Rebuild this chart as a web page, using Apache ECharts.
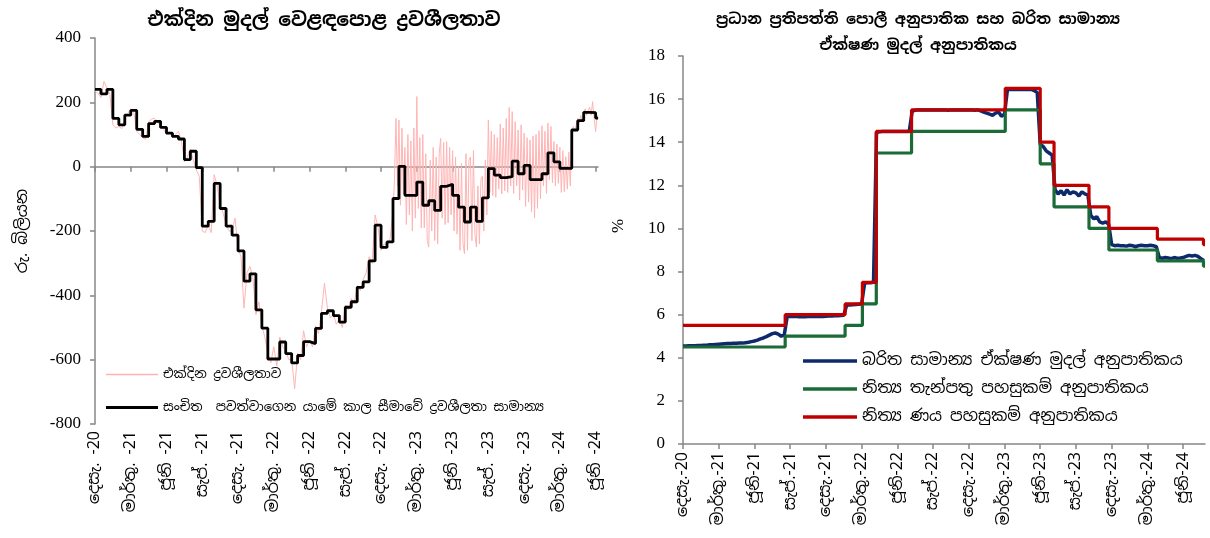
<!DOCTYPE html>
<html>
<head>
<meta charset="utf-8">
<script src="https://cdn.jsdelivr.net/npm/echarts@6/dist/echarts.min.js"></script>
<style>html,body{margin:0;padding:0;background:#fff}#c{width:1210px;height:538px}</style>
</head>
<body>
<div id="c"></div>
<script>
// ---------------- DATA ----------------
// x positions are months since 1 Dec 2020
const leftTickLabels = ['දෙසැ. -20','මාර්තු. -21','ජූනි -21','සැප්. -21','දෙසැ. -21','මාර්තු. -22','ජූනි -22','සැප්. -22','දෙසැ. -22','මාර්තු. -23','ජූනි -23','සැප්. -23','දෙසැ. -23','මාර්තු. -24','ජූනි -24'];
const rightTickLabels = ['දෙසැ.-20','මාර්තු.-21','ජූනි-21','සැප්.-21','දෙසැ.-21','මාර්තු.-22','ජූනි-22','සැප්.-22','දෙසැ.-22','මාර්තු.-23','ජූනි-23','සැප්.-23','දෙසැ.-23','මාර්තු.-24','ජූනි-24'];

// Reserve maintenance period average liquidity (Rs. bn), one value per half-month from Dec 2020
const reservePeriodAvg = [
  240, 226, 240, 150, 130, 160, 175, 116, 94, 134,
  141, 122, 104, 94, 86, 22, 48, -3, -185, -170,
  -52, -130, -185, -213, -262, -356, -333, -445, -502, -598,
  -598, -545, -581, -610, -587, -544, -550, -503, -456, -448,
  -463, -483, -437, -420, -375, -358, -293, -182, -251, -234,
  -99, 1, -89, -89, -48, -120, -106, -136, -61, -55,
  -89, -126, -172, -126, -170, -97, -6, -26, -34, -31,
  17, -22, 4, -40, -40, -22, 43, 15, -5, -5,
  114, 143, 169, 168, 151
];
const liquidityLastMonth = 42.2;   // last observation (early June 2024)

// Daily overnight liquidity, sampled weekly (every 0.25 month) Dec 2020 - Dec 2022
const dailyLiqEarly = [
  235, 228, 215, 265, 245, 225, 130, 120, 125, 118, 150, 165, 180, 170, 110, 100, 90, 85, 140, 148,
  150, 140, 125, 118, 100, 108, 90, 100, 110, 80, 15, 30, 55, 20, -10, -30, -200, -205, -180, -205,
  -25, -60, -120, -145, -180, -200, -200, -160, -255, -280, -440, -330, -310, -345, -460, -420, -495, -530, -580, -610,
  -560, -620, -530, -560, -570, -600, -600, -690, -580, -600, -510, -560, -540, -560, -495, -520, -450, -363, -440, -470,
  -460, -490, -475, -500, -430, -445, -410, -425, -370, -385, -350, -330, -280, -300, -150, -190, -260, -240, -245, -225
];
// Daily overnight liquidity, sampled every 0.125 month from Jan 2023
const dailyLiqLateStart = 25;
const dailyLiqLate = [
  -140, -40, 150, -60,  145, -120, 120, -85,  60, -180, 100, -150,  80, -200, 120, -160,
  218, -130, 90, -190,  100, -190, 40, -230,  -250, 20, -200, 60,  -230, 30, -240, 40,
  88, -160, 75, -180,  78, -175, 60, -150,  50, -200, 30, -210,  0, -260, 10, -240,
  -271, 40, -260, 20,  30, -230, 50, -210,  -250, -60, -240, -40,  -30, -200, 20, -150,
  145, -80, 110, -90,  100, -95, 90, -70,  133, -85, 120, -75,  150, -80, 184, -60,
  171, -83, 140, -60,  114, -104, 130, -73,  104, -124, 90, -110,  83, -140, 95, -160,
  100, -130, 112, -100,  127, -60, 110, -83,  135, -41, 125, -50,  78, -60, 70, -52,
  60, -80, 50, -78,  31, -70, 45, -60,  100, 125, 110, 130,  150, 135, 160, 140,
  165, 180, 160, 175,  185, 160, 202, 150,  109, 160, 150
];

// AWCMR (%), sampled every 0.25 month from Dec 2020
const awcmr = [
  4.55, 4.55, 4.56, 4.56,  4.56, 4.57, 4.57, 4.58,  4.58, 4.6, 4.6, 4.62,  4.63, 4.64, 4.65, 4.66,
  4.66, 4.67, 4.67, 4.68,  4.68, 4.7, 4.72, 4.75,  4.78, 4.82, 4.88, 4.92,  4.98, 5.05, 5.12, 5.15,
  5.1, 5.0, 5.05, 5.9,  5.92, 5.93, 5.92, 5.9,  5.9, 5.9, 5.91, 5.92,  5.92, 5.93, 5.92, 5.92,
  5.93, 5.94, 5.94, 5.95,  5.95, 5.96, 5.97, 6.45,  6.45, 6.46, 6.47, 6.48,  6.5, 7.45, 7.48, 7.48,
  7.5, 14.45, 14.48, 14.5,  14.5, 14.5, 14.5, 14.5,  14.5, 14.5, 14.5, 14.5,  14.5, 15.45, 15.48, 15.5,
  15.5, 15.5, 15.5, 15.5,  15.5, 15.5, 15.5, 15.5,  15.5, 15.48, 15.5, 15.5,  15.5, 15.5, 15.5, 15.5,
  15.5, 15.5, 15.48, 15.5,  15.45, 15.4, 15.35, 15.3,  15.25, 15.35, 15.4, 15.2,  15.3, 16.45, 16.45, 16.45,
  16.45, 16.45, 16.45, 16.45,  16.45, 16.45, 16.4, 16.3,  13.9, 13.8, 13.6, 13.5,  13.4, 11.8, 11.6, 11.75,
  11.55, 11.8, 11.6, 11.7,  11.65, 11.5, 11.7, 11.6,  11.55, 10.6, 10.45, 10.55,  10.3, 10.25, 10.3, 10.2,
  9.25, 9.2, 9.22, 9.2,  9.2, 9.18, 9.22, 9.2,  9.15, 9.2, 9.22, 9.2,  9.2, 9.22, 9.2, 9.15,
  8.65, 8.62, 8.65, 8.63,  8.6, 8.65, 8.62, 8.63,  8.65, 8.7, 8.75, 8.72,  8.75, 8.7, 8.6, 8.5
];

// Policy rate changes
const policyDates = ['2020-12-01','2021-08-19','2022-01-20','2022-03-03','2022-04-08','2022-07-07','2023-03-03','2023-06-01','2023-07-06','2023-10-04','2023-11-24','2024-03-27','2024-07-23'];
const sdfr = [4.5, 5.0, 5.5, 6.5, 13.5, 14.5, 15.5, 13.0, 11.0, 10.0, 9.0, 8.5, 8.25];
const slfr = [5.5, 6.0, 6.5, 7.5, 14.5, 15.5, 16.5, 14.0, 12.0, 11.0, 10.0, 9.5, 9.25];
const ratesLastDate = '2024-07-27';

// Names
const leftTitle = 'එක්දින මුදල් වෙළඳපොළ ද්‍රවශීලතාව';
const rightTitle = 'ප්‍රධාන ප්‍රතිපත්ති පොලී අනුපාතික සහ බරිත සාමාන්‍ය\nඒක්ෂණ මුදල් අනුපාතිකය';
const nameDaily = 'එක්දින ද්‍රවශීලතාව';
const nameReserve = 'සංචිත  පවත්වාගෙන යාමේ කාල සීමාවේ ද්‍රවශීලතා සාමාන්‍ය';
const nameAwcmr = 'බරිත සාමාන්‍ය ඒක්ෂණ මුදල් අනුපාතිකය';
const nameSdfr = 'නිත්‍ය තැන්පතු පහසුකම් අනුපාතිකය';
const nameSlfr = 'නිත්‍ය ණය පහසුකම් අනුපාතිකය';

// ---------------- BUILD ----------------
function monthsSince(d) {
  const [y, m, day] = d.split('-').map(Number);
  const dim = new Date(y, m, 0).getDate();
  return (y - 2020) * 12 + (m - 12) + (day - 1) / dim;
}
const tickVals = leftTickLabels.map((_, i) => i * 3);

const reserveData = reservePeriodAvg.map((v, i) => [i * 0.5, v]);
reserveData.push([liquidityLastMonth, reservePeriodAvg[reservePeriodAvg.length - 1]]);
const dailyData = dailyLiqEarly.map((v, i) => [i * 0.25, v])
  .concat(dailyLiqLate.map((v, i) => [dailyLiqLateStart + i * 0.125, v]));
const awcmrData = awcmr.map((v, i) => [i * 0.25, v]);
const policyX = policyDates.map(monthsSince);
const rightMax = monthsSince(ratesLastDate);
const stepData = arr => arr.map((v, i) => [policyX[i], v]).concat([[rightMax, arr[arr.length - 1]]]);

const SIN = '"Noto Sans Sinhala","Noto Serif Sinhala","Iskoola Pota","Liberation Serif",serif';
const NUM = '"Liberation Serif","Times New Roman",serif';
const AX = '#878787';
const C_PINK = '#ffb4b4', C_BLUE = '#0e2a6c', C_GREEN = '#1b6b36', C_RED = '#c00000';

function lbl(labels) {
  return v => { const k = Math.round(v / 3); return Math.abs(v - 3 * k) < 1e-6 && labels[k] ? labels[k] : ''; };
}
const legTextL = { fontFamily: SIN, fontSize: 13, color: '#000' };
const legTextR = { fontFamily: SIN, fontSize: 16, color: '#000' };

const chart = echarts.init(document.getElementById('c'));
chart.setOption({
  animation: false,
  backgroundColor: '#fff',
  title: [
    { text: leftTitle, left: 319, top: 6, textAlign: 'center',
      textStyle: { fontFamily: SIN, fontSize: 19, fontWeight: 'bold', color: '#000' } },
    { text: rightTitle, left: 913, top: 2, textAlign: 'center',
      textStyle: { fontFamily: SIN, fontSize: 15, fontWeight: 'bold', color: '#000', lineHeight: 26 } }
  ],
  grid: [
    { left: 95, top: 38, width: 503, height: 386, containLabel: false },
    { left: 683, top: 56, width: 522, height: 388, containLabel: false }
  ],
  legend: [
    { data: [{ name: nameDaily, icon: 'rect', itemStyle: { color: C_PINK } }], left: 106, top: 368, padding: 0,
      itemWidth: 52, itemHeight: 1.5, textStyle: legTextL },
    { data: [{ name: nameReserve, icon: 'rect', itemStyle: { color: '#000' } }], left: 106, top: 401, padding: 0,
      itemWidth: 52, itemHeight: 3, textStyle: legTextL },
    { data: [
        { name: nameAwcmr, icon: 'rect', itemStyle: { color: C_BLUE } },
        { name: nameSdfr, icon: 'rect', itemStyle: { color: C_GREEN } },
        { name: nameSlfr, icon: 'rect', itemStyle: { color: C_RED } }],
      orient: 'vertical', left: 803, top: 353, padding: 0,
      itemWidth: 54, itemHeight: 3.5, itemGap: 12, textStyle: legTextR }
  ],
  xAxis: [
    { gridIndex: 0, type: 'value', min: 0, max: liquidityLastMonth, interval: 3, position: 'bottom',
      axisLine: { show: false, onZero: false }, axisTick: { show: false }, splitLine: { show: false },
      axisLabel: { customValues: tickVals, rotate: 90, margin: 7, fontFamily: SIN, fontSize: 16, color: '#000',
        formatter: lbl(leftTickLabels) } },
    { gridIndex: 0, type: 'value', min: 0, max: liquidityLastMonth, interval: 3, position: 'bottom',
      axisLine: { show: true, onZero: true, lineStyle: { color: AX, width: 1.5 } },
      axisTick: { show: true, customValues: tickVals, length: 5, lineStyle: { color: AX, width: 1.5 } },
      axisLabel: { show: false }, splitLine: { show: false } },
    { gridIndex: 1, type: 'value', min: 0, max: rightMax, interval: 3, position: 'bottom',
      axisLine: { show: true, onZero: false, lineStyle: { color: AX, width: 1.5 } },
      axisTick: { show: true, customValues: tickVals, length: 5, lineStyle: { color: AX, width: 1.5 } },
      splitLine: { show: false },
      axisLabel: { customValues: tickVals, rotate: 90, margin: 8, fontFamily: SIN, fontSize: 16, color: '#000',
        formatter: lbl(rightTickLabels) } }
  ],
  yAxis: [
    { gridIndex: 0, type: 'value', min: -800, max: 400, interval: 200,
      axisLine: { show: true, onZero: false, lineStyle: { color: AX, width: 1.5 } },
      axisTick: { show: true, length: 5, lineStyle: { color: AX, width: 1.5 } },
      splitLine: { show: false },
      axisLabel: { margin: 14, fontFamily: NUM, fontSize: 17, color: '#000' },
      name: 'රු. බිලියන', nameLocation: 'middle', nameRotate: 90, nameGap: 64,
      nameTextStyle: { fontFamily: SIN, fontSize: 16, color: '#000' } },
    { gridIndex: 1, type: 'value', min: 0, max: 18, interval: 2,
      axisLine: { show: true, onZero: false, lineStyle: { color: AX, width: 1.5 } },
      axisTick: { show: true, length: 5, lineStyle: { color: AX, width: 1.5 } },
      splitLine: { show: false },
      axisLabel: { margin: 18, fontFamily: NUM, fontSize: 17, color: '#000' },
      name: '%', nameLocation: 'middle', nameRotate: 90, nameGap: 56,
      nameTextStyle: { fontFamily: NUM, fontSize: 17, color: '#000', padding: [0, 0, 0, 48] } }
  ],
  series: [
    { name: nameDaily, type: 'line', xAxisIndex: 0, yAxisIndex: 0, data: dailyData,
      symbol: 'none', lineStyle: { color: C_PINK, width: 1 }, itemStyle: { color: C_PINK }, z: 2 },
    { name: nameReserve, type: 'line', xAxisIndex: 0, yAxisIndex: 0, data: reserveData, step: 'end',
      symbol: 'none', lineStyle: { color: '#000', width: 2.8 }, itemStyle: { color: '#000' }, z: 3 },
    { name: nameAwcmr, type: 'line', xAxisIndex: 2, yAxisIndex: 1, data: awcmrData,
      symbol: 'none', lineStyle: { color: C_BLUE, width: 3.5 }, itemStyle: { color: C_BLUE }, z: 2 },
    { name: nameSdfr, type: 'line', xAxisIndex: 2, yAxisIndex: 1, data: stepData(sdfr), step: 'end',
      symbol: 'none', lineStyle: { color: C_GREEN, width: 3.2 }, itemStyle: { color: C_GREEN }, z: 3 },
    { name: nameSlfr, type: 'line', xAxisIndex: 2, yAxisIndex: 1, data: stepData(slfr), step: 'end',
      symbol: 'none', lineStyle: { color: C_RED, width: 3.2 }, itemStyle: { color: C_RED }, z: 4 }
  ]
});
</script>
</body>
</html>
